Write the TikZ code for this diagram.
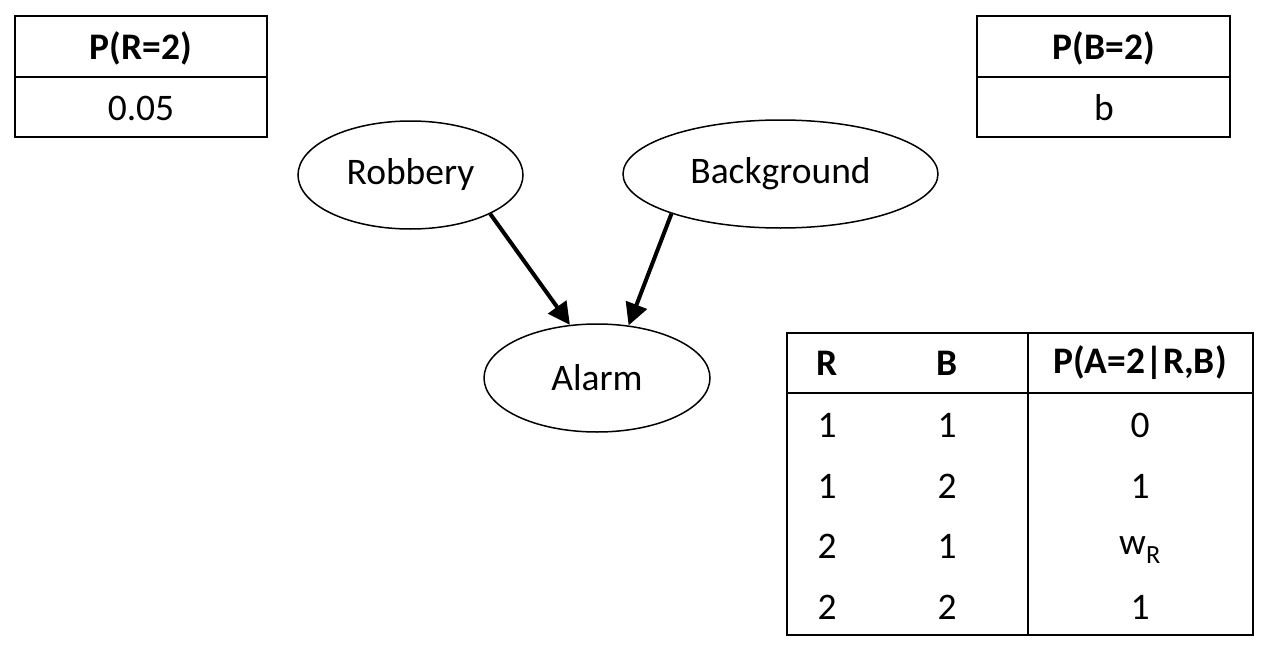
\documentclass[tikz,border=0pt]{standalone}
\usepackage{fontspec}
\setmainfont{Carlito}
\usetikzlibrary{shapes.geometric,arrows.meta}
\tikzset{
  var/.style={ellipse,draw,line width=1.5pt,inner sep=0pt,minimum height=108pt,font=\fontsize{37.5}{44}\selectfont},
  cell/.style={inner sep=0pt,font=\fontsize{37.5}{44}\selectfont},
  head/.style={cell,font=\fontsize{37.5}{44}\selectfont\bfseries},
  grid/.style={line width=2pt},
  edge/.style={line width=4pt,-{Triangle[length=22pt,width=22pt]}}
}
\begin{document}
\begin{tikzpicture}[x=1pt,y=-1pt]
\useasboundingbox (0,0) rectangle (1270,653);
% ellipses
\node[var,minimum width=225pt] (rob) at (410.5,175) {\raisebox{-3pt}{Robbery}};
\node[var,minimum width=315pt] (bg) at (780.5,174) {\raisebox{-3pt}{Background}};
\node[var,minimum width=226pt] (ala) at (597,378) {\raisebox{-2pt}{Alarm}};
\coordinate (rs) at (rob.-26);
\coordinate (bs) at (bg.200);
\coordinate (ae1) at (ala.117);
\coordinate (ae2) at (ala.59.5);
\draw[edge] (rs) -- (ae1);
\draw[edge] (bs) -- (ae2);
% table R
\draw[grid] (15,16) rectangle (267,137);
\draw[grid] (15,77) -- (267,77);
\node[head] (pr) at (141,48) {P(R=2)};
\node[cell] (prv) at (141,108) {0.05};
% table B
\draw[grid] (977,16) rectangle (1230,137);
\draw[grid] (977,77) -- (1230,77);
\node[head] (pb) at (1104,48) {P(B=2)};
\node[cell] (pbv) at (1104,108) {b};
% table A
\draw[grid] (787,333) rectangle (1253,635);
\draw[grid] (787,393) -- (1253,393);
\draw[grid] (1028,333) -- (1028,635);
\node[head] (hr) at (827,363) {R};
\node[head] (hb) at (947,363) {B};
\node[head] (ha) at (1140,363) {P(A=2|R,B)};
\node[cell] (r1) at (827,425) {1};
\node[cell] (b1) at (947,425) {1};
\node[cell] (a1) at (1140,425) {0};
\node[cell] (r2) at (827,486) {1};
\node[cell] (b2) at (947,486) {2};
\node[cell] (a2) at (1140,486) {1};
\node[cell] (r3) at (827,546) {2};
\node[cell] (b3) at (947,546) {1};
\node[cell] (a3) at (1140,550) {w\textsubscript{R}};
\node[cell] (r4) at (827,607) {2};
\node[cell] (b4) at (947,607) {2};
\node[cell] (a4) at (1140,607) {1};
\end{tikzpicture}
\end{document}
